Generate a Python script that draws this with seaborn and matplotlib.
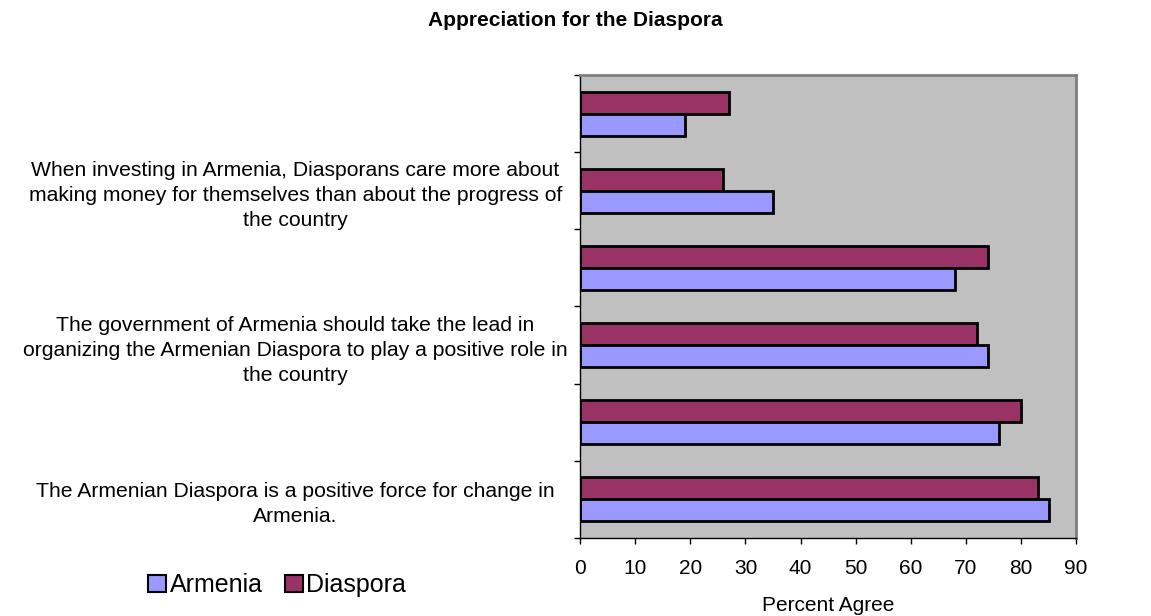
import pandas as pd
import matplotlib.pyplot as plt
import seaborn as sns
from matplotlib.patches import Patch

# data, top to bottom as drawn
statements = [
    "Statement 6",
    "When investing in Armenia, Diasporans care more about\nmaking money for themselves than about the progress of\nthe country",
    "Statement 4",
    "The government of Armenia should take the lead in\norganizing the Armenian Diaspora to play a positive role in\nthe country",
    "Statement 2",
    "The Armenian Diaspora is a positive force for change in\nArmenia.",
]
shown_labels = [False, True, False, True, False, True]
armenia = [19, 35, 68, 74, 76, 85]
diaspora = [27, 26, 74, 72, 80, 83]

df = pd.DataFrame({
    "Statement": statements * 2,
    "Group": ["Armenia"] * 6 + ["Diaspora"] * 6,
    "Percent": armenia + diaspora,
})

sns.set_style("white")
plt.rcParams["font.family"] = ["Liberation Sans", "DejaVu Sans"]
plt.rcParams["text.color"] = "black"
plt.rcParams["xtick.color"] = "black"
plt.rcParams["ytick.color"] = "black"
plt.rcParams["axes.labelcolor"] = "black"

colors = {"Armenia": "#9999FF", "Diaspora": "#993366"}

fig = plt.figure(figsize=(11.51, 6.16), dpi=100)
ax = fig.add_axes([0.504, 0.127, 0.431, 0.751])
sns.barplot(data=df, y="Statement", x="Percent", hue="Group",
            hue_order=["Diaspora", "Armenia"], palette=colors, orient="h",
            width=0.57, saturation=1, edgecolor="black", linewidth=2,
            ax=ax, legend=False)

ax.set_facecolor("#C0C0C0")
ax.set_xlim(0, 90)
ax.set_ylim(5.5, -0.5)
ax.set_xticks(range(0, 91, 10))
ax.tick_params(axis="x", labelsize=15, length=4, width=1, pad=11,
               direction="out", bottom=True)

# category boundaries as major ticks, labels on minor ticks
ax.set_yticks([i - 0.5 for i in range(7)])
ax.set_yticklabels([])
ax.tick_params(axis="y", which="major", length=4, width=1, direction="out", left=True)
ax.set_yticks(range(6), minor=True)
ax.set_yticklabels([s if show else "" for s, show in zip(statements, shown_labels)],
                   minor=True, fontsize=15.2, ha="center", multialignment="center")
ax.tick_params(axis="y", which="minor", length=0, pad=205)
for lab in ax.get_yticklabels(minor=True):
    lab.set_linespacing(1.4)

ax.set_ylabel("")
ax.set_xlabel("Percent Agree", fontsize=15, labelpad=13)

for side in ["top", "right"]:
    ax.spines[side].set_color("#808080")
    ax.spines[side].set_linewidth(2)
for side in ["left", "bottom"]:
    ax.spines[side].set_color("black")
    ax.spines[side].set_linewidth(1)

fig.text(0.5, 0.966, "Appreciation for the Diaspora", ha="center", va="center",
         fontsize=15, fontweight="bold")

handles = [Patch(facecolor=colors[g], edgecolor="black", linewidth=1.5) for g in ["Armenia", "Diaspora"]]
fig.legend(handles, ["Armenia", "Diaspora"], loc="center", bbox_to_anchor=(0.241, 0.05),
           ncol=2, frameon=False, fontsize=18, handlelength=0.7, handleheight=0.7,
           handletextpad=0.15, columnspacing=0.9)

plt.savefig("out.png", dpi=100)
